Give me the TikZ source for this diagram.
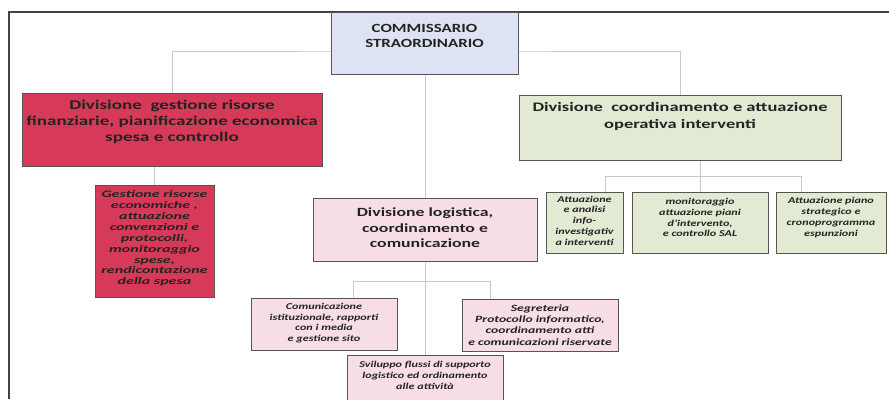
\documentclass[tikz,border=0pt]{standalone}
\usepackage{fontspec}
\setmainfont[FakeStretch=1.35]{Carlito}
\newfontfamily\headfont[FakeStretch=1.42]{Carlito}
\newfontfamily\widefont[FakeStretch=1.6]{Carlito}
\usetikzlibrary{calc}
\definecolor{commfill}{RGB}{222,227,243}
\definecolor{redfill}{RGB}{214,58,88}
\definecolor{greenfill}{RGB}{227,234,212}
\definecolor{pinkfill}{RGB}{247,222,228}
\definecolor{edgecol}{RGB}{85,85,85}
\definecolor{conncol}{RGB}{200,200,206}
\definecolor{framecol}{RGB}{70,66,68}
\definecolor{txtcol}{RGB}{35,35,35}
\pgfdeclarelayer{bg}
\pgfsetlayers{bg,main}
\begin{document}
\begin{tikzpicture}[x=1pt,y=-1pt,
  box/.style={draw=edgecol, line width=1pt, inner sep=0pt},
  head/.style={font=\headfont\bfseries\fontsize{13}{15.5}\selectfont, align=center, text=txtcol, inner sep=0pt},
  small/.style={font=\bfseries\itshape\fontsize{9}{10.8}\selectfont, align=center, text=txtcol, inner sep=0pt},
  conn/.style={draw=conncol, line width=0.8pt},
  frameline/.style={draw=framecol, line width=1.3pt}]
\useasboundingbox (0,0) rectangle (889,399);
\clip (0,0) rectangle (889,399);
% boxes
\node[box, fill=commfill, minimum width=187, minimum height=62] (comm) at (425,43) {};
\node[box, fill=redfill, minimum width=300, minimum height=73] (red) at (172,129.5) {};
\node[box, fill=greenfill, minimum width=322, minimum height=65] (green) at (680,127.5) {};
\node[box, fill=redfill, minimum width=119, minimum height=112] (rsmall) at (154.5,241) {};
\node[box, fill=greenfill, minimum width=77, minimum height=61] (g1) at (584.5,222.5) {};
\node[box, fill=greenfill, minimum width=136, minimum height=61] (g2) at (700,222.5) {};
\node[box, fill=greenfill, minimum width=110, minimum height=61] (g3) at (831,222.5) {};
\node[box, fill=pinkfill, minimum width=224, minimum height=63] (pink) at (425,229.5) {};
\node[box, fill=pinkfill, minimum width=146, minimum height=52] (b1) at (324,324) {};
\node[box, fill=pinkfill, minimum width=156, minimum height=52] (b2) at (540,325) {};
\node[box, fill=pinkfill, minimum width=156, minimum height=50] (b3) at (425,380) {};
% texts
\node[head, font=\bfseries\fontsize{12.5}{15}\selectfont] (commT) at (424.5,35.5) {COMMISSARIO\\STRAORDINARIO};
\node[head, font=\headfont\bfseries\fontsize{13.4}{16}\selectfont] (redT) at (172,122) {Divisione\ \ gestione risorse\\finanziarie, pianificazione economica\\spesa e controllo};
\node[head, font=\headfont\bfseries\fontsize{13}{17}\selectfont] (greenT) at (680,116) {Divisione\ \ coordinamento e attuazione\\operativa interventi};
\node[head, font=\headfont\bfseries\fontsize{12.5}{15.5}\selectfont] (pinkT) at (425,228) {Divisione logistica,\\coordinamento e\\comunicazione};
\node[small, font=\widefont\bfseries\itshape\fontsize{10}{10.9}\selectfont] (rsmallT) at (154.5,238.5) {Gestione risorse\\economiche ,\\attuazione\\convenzioni e\\protocolli,\\monitoraggio\\spese,\\rendicontazione\\della spesa};
\node[small] (g1T) at (584.5,220.5) {Attuazione\\e analisi\\info-\\investigativ\\a interventi};
\node[small] (g2T) at (700,217.5) {monitoraggio\\attuazione piani\\d'intervento,\\e controllo SAL};
\node[small] (g3T) at (831,217.5) {Attuazione piano\\strategico e\\cronoprogramma\\espunzioni};
\node[small] (b1T) at (324,323) {Comunicazione\\istituzionale, rapporti\\con i media\\e gestione sito};
\node[small, font=\headfont\bfseries\itshape\fontsize{9.6}{11.2}\selectfont] (b2T) at (540,325) {Segreteria\\Protocollo informatico,\\coordinamento atti\\e comunicazioni riservate};
\node[small] (b3T) at (425,375.5) {Sviluppo flussi di supporto\\logistico ed ordinamento\\alle attività};
% coordinates
\coordinate (fTL) at (9,12);
\coordinate (fTR) at (889,12);
\coordinate (fBL) at (9,399);
\coordinate (busC) at (425,51);
\coordinate (gbL) at (605,176);
\coordinate (gbR) at (801,176);
\coordinate (pbL) at (353,281);
\coordinate (pbR) at (490,281);
\begin{pgfonlayer}{bg}
\draw[frameline] (fTR) -- (fTL) -- (fBL);
\draw[conn] (red.north) |- (busC) -| (green.north);
\draw[conn] (comm.south) -- (pink.north);
\draw[conn] (red.south -| rsmall.north) -- (rsmall.north);
\draw[conn] (green.south -| g2.north) -- (g2.north);
\draw[conn] (g1.north -| gbL) |- (gbR) -- (gbR |- g3.north);
\draw[conn] (pink.south) -- (b3.north);
\draw[conn] (b1.north -| pbL) |- (pbR) -- (pbR |- b2.north);
\end{pgfonlayer}
\end{tikzpicture}
\end{document}
